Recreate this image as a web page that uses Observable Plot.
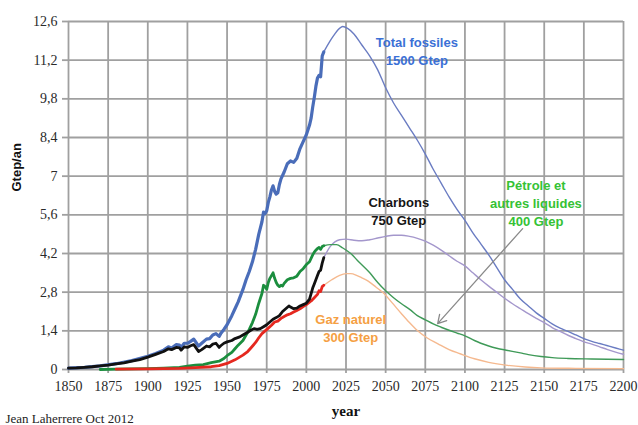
<!DOCTYPE html>
<html>
<head>
<meta charset="utf-8">
<script src="https://cdn.jsdelivr.net/npm/d3@7"></script>
<script src="https://cdn.jsdelivr.net/npm/@observablehq/plot@0.6"></script>
<style>
  html, body { margin: 0; padding: 0; background: #fff; }
  svg { display: block; }
</style>
</head>
<body>
<div id="chart"></div>
<script>
// Production mondiale d'énergies fossiles (Gtep/an) : historique puis prévision

// Total fossiles, historique
const totalHistYears = [1850,1860,1870,1880,1890,1900,1905,1910,1913,1915,1918,1920,1921,1923,1925,1927,1929,1930,1932,1934,1937,1939,1941,1943,1945,1946,1948,1950,1953,1955,1957,1960,1962,1964,1966,1968,1970,1972,1973,1974,1975,1976,1977,1978,1979,1980,1981,1982,1983,1984,1986,1988,1990,1992,1994,1996,1998,2000,2002,2003,2004,2005,2006,2007,2008,2009,2010,2011];
const totalHistValues = [0.05,0.08,0.13,0.21,0.32,0.48,0.58,0.70,0.82,0.78,0.90,0.88,0.80,0.95,0.95,1.02,1.10,1.02,0.85,0.95,1.10,1.12,1.25,1.30,1.20,1.30,1.45,1.62,1.95,2.20,2.45,2.90,3.25,3.55,3.90,4.35,4.90,5.35,5.70,5.65,5.75,6.05,6.25,6.50,6.65,6.45,6.35,6.40,6.70,6.90,7.15,7.45,7.55,7.50,7.65,8.00,8.25,8.50,8.85,9.10,9.50,9.85,10.25,10.55,10.65,10.60,11.35,11.50];

// Charbons, historique
const coalHistYears = [1850,1855,1860,1865,1870,1875,1880,1885,1890,1895,1900,1905,1910,1913,1915,1918,1920,1921,1923,1925,1927,1929,1930,1932,1934,1937,1939,1941,1943,1945,1946,1948,1950,1953,1955,1958,1960,1963,1965,1967,1969,1971,1973,1975,1977,1979,1981,1983,1985,1987,1989,1990,1992,1994,1996,1998,2000,2002,2003,2004,2005,2006,2007,2008,2009,2010,2011];
const coalHistValues = [0.05,0.06,0.08,0.10,0.13,0.16,0.20,0.24,0.30,0.36,0.45,0.55,0.65,0.75,0.72,0.80,0.78,0.70,0.82,0.80,0.86,0.90,0.82,0.65,0.72,0.85,0.82,0.92,0.95,0.80,0.86,0.95,1.00,1.05,1.12,1.18,1.25,1.35,1.42,1.48,1.45,1.48,1.55,1.62,1.72,1.82,1.88,1.95,2.10,2.20,2.30,2.26,2.20,2.22,2.30,2.35,2.40,2.55,2.75,2.95,3.10,3.25,3.40,3.55,3.60,3.85,4.05];

// Pétrole et autres liquides, historique
const oilHistYears = [1870,1880,1890,1900,1910,1920,1925,1930,1935,1940,1945,1948,1950,1953,1955,1957,1960,1962,1964,1966,1968,1970,1972,1973,1974,1975,1976,1977,1978,1979,1980,1981,1982,1983,1984,1985,1986,1988,1990,1992,1994,1996,1998,2000,2002,2004,2005,2006,2007,2008,2009,2010,2011];
const oilHistValues = [0.00,0.01,0.02,0.03,0.05,0.08,0.12,0.16,0.18,0.25,0.30,0.40,0.50,0.62,0.75,0.88,1.05,1.25,1.45,1.70,2.00,2.40,2.75,3.05,3.00,2.90,3.15,3.30,3.40,3.50,3.30,3.15,3.05,3.00,3.05,3.02,3.12,3.25,3.30,3.32,3.38,3.55,3.65,3.80,3.90,4.15,4.25,4.32,4.38,4.42,4.35,4.45,4.48];

// Gaz naturel, historique
const gasHistYears = [1880,1900,1920,1930,1940,1945,1950,1955,1960,1963,1965,1968,1970,1972,1974,1976,1978,1980,1982,1984,1986,1988,1990,1992,1994,1996,1998,2000,2003,2005,2007,2008,2009,2010,2011];
const gasHistValues = [0.01,0.02,0.04,0.07,0.10,0.14,0.22,0.35,0.52,0.65,0.78,0.98,1.15,1.30,1.40,1.50,1.60,1.72,1.75,1.85,1.92,1.98,2.02,2.08,2.14,2.20,2.28,2.35,2.48,2.60,2.72,2.85,2.82,3.00,3.05];

// Prévisions
const totalFutureYears = [2011,2015,2018,2020,2023,2026,2030,2035,2040,2045,2050,2055,2060,2065,2070,2075,2080,2085,2090,2095,2100,2105,2110,2115,2120,2125,2130,2135,2140,2145,2150,2155,2160,2165,2170,2175,2180,2185,2190,2195,2200];
const totalFutureValues = [11.50,11.90,12.15,12.30,12.42,12.35,12.15,11.75,11.35,10.85,10.20,9.65,9.20,8.75,8.30,7.80,7.25,6.75,6.25,5.80,5.40,4.95,4.55,4.15,3.70,3.25,2.90,2.55,2.30,2.05,1.85,1.65,1.50,1.38,1.25,1.12,1.02,0.94,0.86,0.78,0.70];

const coalFutureYears = [2011,2015,2018,2021,2025,2030,2035,2040,2045,2050,2055,2060,2065,2070,2075,2080,2085,2090,2095,2100,2105,2110,2115,2120,2125,2130,2135,2140,2145,2150,2155,2160,2165,2170,2175,2180,2185,2190,2195,2200];
const coalFutureValues = [4.05,4.45,4.62,4.70,4.72,4.68,4.66,4.70,4.76,4.82,4.86,4.86,4.82,4.75,4.65,4.50,4.32,4.12,3.92,3.75,3.50,3.25,3.02,2.80,2.58,2.38,2.20,2.02,1.85,1.70,1.52,1.38,1.24,1.12,1.00,0.92,0.82,0.72,0.63,0.55];

const oilFutureYears = [2011,2015,2019,2023,2028,2033,2040,2045,2050,2055,2060,2066,2070,2075,2080,2085,2090,2095,2100,2106,2110,2115,2120,2127,2135,2140,2148,2155,2165,2180,2200];
const oilFutureValues = [4.48,4.52,4.52,4.40,4.20,3.90,3.50,3.15,2.85,2.60,2.38,2.14,1.95,1.80,1.65,1.53,1.42,1.32,1.22,1.05,0.95,0.85,0.77,0.69,0.60,0.54,0.47,0.43,0.40,0.38,0.36];

const gasFutureYears = [2011,2016,2021,2025,2028,2032,2035,2039,2044,2049,2054,2060,2065,2070,2076,2083,2090,2097,2106,2115,2127,2138,2148,2170,2200];
const gasFutureValues = [3.05,3.25,3.41,3.47,3.47,3.40,3.32,3.20,2.98,2.75,2.42,2.02,1.70,1.41,1.15,0.93,0.72,0.57,0.39,0.26,0.15,0.09,0.06,0.04,0.03];

// Axes
const xTicks = [1850,1875,1900,1925,1950,1975,2000,2025,2050,2075,2100,2125,2150,2175,2200];
const yTicks = [0,1.4,2.8,4.2,5.6,7,8.4,9.8,11.2,12.6];

// Étiquettes des courbes
const seriesLabels = [
  {year: 2069.7, value: 11.57, text: "Total fossiles\n1500 Gtep", color: "#3b70d6"},
  {year: 2058.3, value: 5.77, text: "Charbons\n750 Gtep", color: "#151515"},
  {year: 2144.8, value: 6.06, text: "Pétrole et\nautres liquides\n400 Gtep", color: "#35c235"},
  {year: 2028.0, value: 1.52, text: "Gaz naturel\n300 Gtep", color: "#f5a043"}
];
const pointer = [{fromYear: 2136.4, fromValue: 5.10, toYear: 2082.8, toValue: 1.66}];

const zip = (years, values) => years.map((year, i) => ({year, value: values[i]}));

const serif = "Liberation Serif";
const sans = "Liberation Sans";
const gridColor = "#a0a0a0";

const thick = (years, values, stroke, w = 2.8) =>
  Plot.line(zip(years, values), {x: "year", y: "value", stroke, strokeWidth: w, strokeLinejoin: "round"});
const thin = (years, values, stroke) =>
  Plot.line(zip(years, values), {x: "year", y: "value", stroke, strokeWidth: 1.4, curve: "monotone-x"});

const chart = Plot.plot({
  width: 638,
  height: 425,
  marginLeft: 68,
  marginRight: 15,
  marginTop: 21,
  marginBottom: 56,
  style: {background: "#fff", overflow: "visible"},
  x: {domain: [1850, 2200]},
  y: {domain: [0, 12.6]},
  marks: [
    Plot.gridX(xTicks, {stroke: gridColor, strokeOpacity: 1, strokeWidth: 1.8}),
    Plot.gridY(yTicks, {stroke: gridColor, strokeOpacity: 1, strokeWidth: 1.8}),
    Plot.axisX(xTicks, {tickSize: 4, stroke: gridColor, strokeWidth: 1.8, tickFormat: () => "", label: null}),
    Plot.axisY(yTicks, {tickSize: 6, stroke: gridColor, strokeWidth: 1.8, tickFormat: () => "", label: null}),

    // Libellés des graduations
    Plot.text(xTicks, {
      x: d => d, frameAnchor: "bottom", dy: 17, lineAnchor: "middle",
      text: d => String(d), fontFamily: serif, fontSize: 14, fill: "#2a2a2a"
    }),
    Plot.text(yTicks, {
      y: d => d, frameAnchor: "left", dx: -11, textAnchor: "end",
      text: d => String(d).replace(".", ","), fontFamily: serif, fontSize: 14, fill: "#2a2a2a"
    }),

    // Prévisions (traits fins)
    thin(coalFutureYears, coalFutureValues, "#a497cc"),
    thin(gasFutureYears, gasFutureValues, "#f5b98f"),
    thin(oilFutureYears, oilFutureValues, "#3f9a58"),
    thin(totalFutureYears, totalFutureValues, "#6a7cc2"),

    // Historique (traits épais)
    thick(totalHistYears, totalHistValues, "#4a6db9", 3.2),
    thick(oilHistYears, oilHistValues, "#1b8e3e"),
    thick(gasHistYears, gasHistValues, "#e5281f"),
    thick(coalHistYears, coalHistValues, "#111111"),

    Plot.arrow(pointer, {
      x1: "fromYear", y1: "fromValue", x2: "toYear", y2: "toValue",
      stroke: "#8a8a8a", strokeWidth: 1.3, headLength: 11, bend: false
    }),

    Plot.text(seriesLabels, {
      x: "year", y: "value", text: "text", fill: "color",
      fontFamily: sans, fontWeight: "bold", fontSize: 13, lineHeight: 1.38
    }),

    Plot.text(["Gtep/an"], {
      frameAnchor: "left", rotate: -90, dx: -52, dy: -4,
      fontFamily: sans, fontWeight: "bold", fontSize: 13, fill: "#111"
    }),
    Plot.text(["year"], {
      frameAnchor: "bottom", dy: 42, lineAnchor: "middle",
      fontFamily: serif, fontWeight: "bold", fontSize: 15, fill: "#111"
    }),
    Plot.text(["Jean Laherrere Oct 2012"], {
      frameAnchor: "bottom-left", textAnchor: "start", dx: -63, dy: 49, lineAnchor: "middle",
      fontFamily: serif, fontSize: 13, fill: "#222"
    })
  ]
});

document.getElementById("chart").append(chart);
</script>
</body>
</html>
